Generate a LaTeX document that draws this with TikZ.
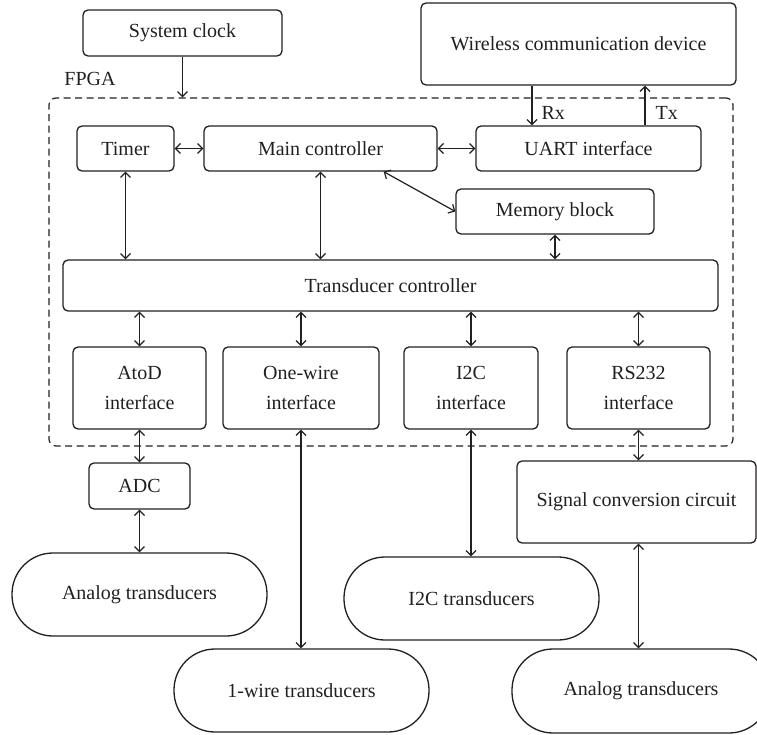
\documentclass[tikz,border=0pt]{standalone}
\usepackage{fontspec}
\setmainfont{Liberation Serif}
\usetikzlibrary{arrows.meta,calc}
\definecolor{ink}{RGB}{35,31,32}
\begin{document}
\begin{tikzpicture}[x=1pt,y=-1pt,
  every node/.style={font=\fontsize{20}{30}\selectfont, text=ink},
  blk/.style={draw=ink, line width=1.3pt, rounded corners=5pt, inner sep=0pt, align=center},
  pill/.style={draw=ink, line width=1.3pt, rounded corners=41pt, inner sep=0pt, align=center},
  link/.style={draw=ink, line width=1.2pt, -{Straight Barb[length=5pt,width=10pt]}},
  dlink/.style={draw=ink, line width=1.2pt, {Straight Barb[length=5pt,width=10pt]}-{Straight Barb[length=5pt,width=10pt]}}
]
\clip (0,0) rectangle (757,735);

% FPGA boundary
\node[draw=ink, line width=1.2pt, dash pattern=on 7pt off 4.5pt, rounded corners=7pt,
      minimum width=684pt, minimum height=348pt, inner sep=0pt] (fpga) at (391,272) {};
\node (fpgalbl) at (90,79) {FPGA};

% outside blocks at the top
\node[blk, minimum width=199pt, minimum height=46pt] (sysclk) at (182.5,33) {System clock};
\node[blk, minimum width=315pt, minimum height=82pt] (wireless) at (578.5,44) {Wireless communication device};

% blocks inside the FPGA
\node[blk, minimum width=97pt,  minimum height=45pt] (timer) at (125.5,148.5) {Timer};
\node[blk, minimum width=233pt, minimum height=45pt] (main)  at (320.5,148.5) {Main controller};
\node[blk, minimum width=225pt, minimum height=45pt] (uart)  at (588.5,148.5) {UART interface};
\node[blk, minimum width=198pt, minimum height=45pt] (mem)   at (555,211.5) {Memory block};
\node[blk, minimum width=655pt, minimum height=51pt] (tc)    at (390.5,285.5) {Transducer controller};

\node[blk, minimum width=133pt, minimum height=82pt] (atod)    at (139.5,388) {AtoD\\interface};
\node[blk, minimum width=156pt, minimum height=82pt] (onewire) at (301,388)   {One-wire\\interface};
\node[blk, minimum width=134pt, minimum height=82pt] (i2c)     at (471,388)   {I2C\\interface};
\node[blk, minimum width=143pt, minimum height=82pt] (rs232)   at (638.5,388) {RS232\\interface};

% external devices
\node[blk, minimum width=101pt, minimum height=46pt] (adc) at (139.5,486) {ADC};
\node[blk, minimum width=239pt, minimum height=82pt] (sigconv) at (636.5,502) {Signal conversion circuit};

\node[pill, minimum width=255pt, minimum height=83pt] (analogL) at (139.5,594.5) {Analog transducers};
\node[pill, minimum width=255pt, minimum height=83pt] (onewireT) at (301.5,690.5) {1-wire transducers};
\node[pill, minimum width=255pt, minimum height=83pt] (i2cT) at (471.5,598.5) {I2C transducers};
\node[pill, minimum width=258pt, minimum height=84pt] (analogR) at (641,691) {Analog transducers};

% connectors
\draw[link] (sysclk.south) -- (sysclk.south |- fpga.north);
\draw[link] ([xshift=-56.5pt]uart.north |- wireless.south) -- ([xshift=-56.5pt]uart.north)
  node[pos=0.7, anchor=west, inner sep=0pt, xshift=9pt] (rx) {Rx};
\draw[link] ([xshift=56.5pt]uart.north) -- ([xshift=56.5pt]uart.north |- wireless.south)
  node[pos=0.3, anchor=west, inner sep=0pt, xshift=10pt] (tx) {Tx};

\draw[dlink] (timer.east) -- (main.west);
\draw[dlink] (main.east) -- (uart.west);
\draw[dlink] ([xshift=-54pt]main.south east) -- (mem.west);

\draw[dlink] (timer.south) -- (timer.south |- tc.north);
\draw[dlink] (main.south) -- (main.south |- tc.north);
\draw[dlink] (mem.south) -- (mem.south |- tc.north);

\draw[dlink] (atod.north |- tc.south) -- (atod.north);
\draw[dlink] (onewire.north |- tc.south) -- (onewire.north);
\draw[dlink] (i2c.north |- tc.south) -- (i2c.north);
\draw[dlink] (rs232.north |- tc.south) -- (rs232.north);

\draw[dlink] (atod.south) -- (adc.north);
\draw[dlink] (adc.south) -- (analogL.north);
\draw[dlink] (onewire.south) -- (onewire.south |- onewireT.north);
\draw[dlink] (i2c.south) -- (i2c.south |- i2cT.north);
\draw[dlink] (rs232.south) -- (rs232.south |- sigconv.north);
\draw[dlink] (sigconv.south -| rs232.south) -- (rs232.south |- analogR.north);
\end{tikzpicture}
\end{document}
